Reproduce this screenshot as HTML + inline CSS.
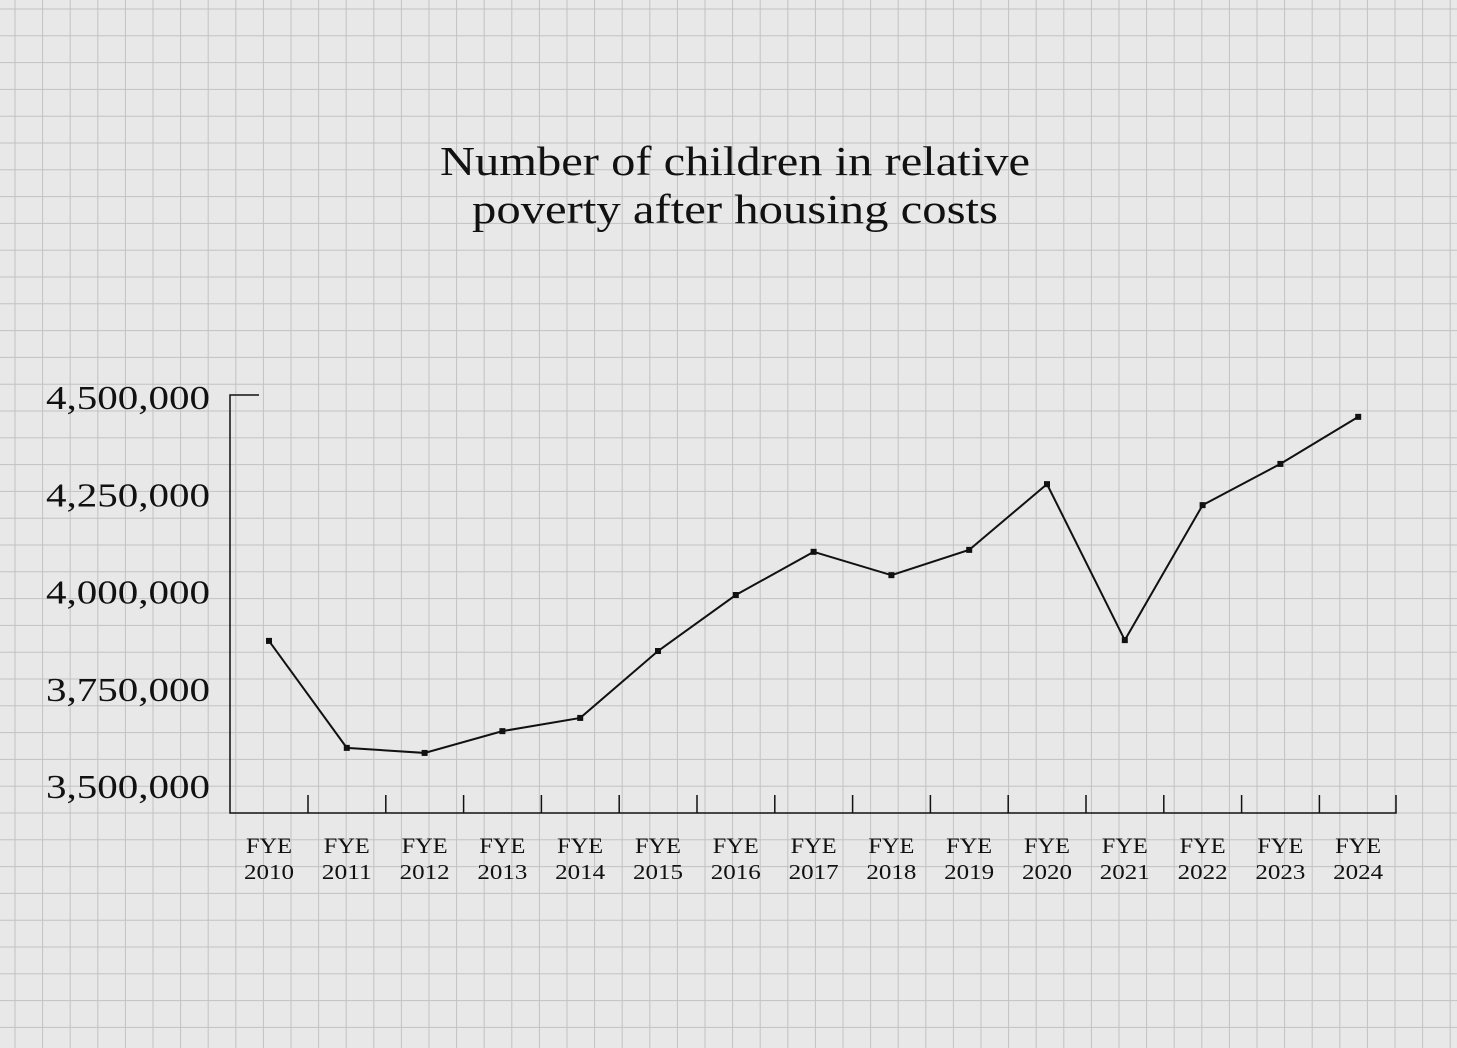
<!DOCTYPE html>
<html><head><meta charset="utf-8"><style>
html,body{margin:0;padding:0;background:#e9e9e9;}
svg{display:block;font-family:"Liberation Serif",serif;}
</style></head><body>
<svg id="chart" width="1457" height="1048" viewBox="0 0 1457 1048" xmlns="http://www.w3.org/2000/svg">
<rect width="1457" height="1048" fill="#e8e8e8"/>
<g id="grid" stroke="#c2c2c2" stroke-width="1"></g>
<text x="735" y="175" text-anchor="middle" font-size="41" fill="#111" textLength="590" lengthAdjust="spacingAndGlyphs">Number of children in relative</text>
<text x="735" y="223" text-anchor="middle" font-size="41" fill="#111" textLength="526" lengthAdjust="spacingAndGlyphs">poverty after housing costs</text>
<g id="axes" stroke="#111" stroke-width="1.5" fill="none"></g>
<g id="ylabels"></g>
<g id="xlabels"></g>
<g id="series"></g>
</svg>
<script>
const years = ["2010","2011","2012","2013","2014","2015","2016","2017","2018","2019","2020","2021","2022","2023","2024"];
const values = [3873000,3598000,3585000,3641000,3675000,3847000,3991000,4102000,4042000,4107000,4276000,3875000,4222000,4328000,4449000];
const yTicks = [3500000,3750000,4000000,4250000,4500000];
const yTickLabels = ["3,500,000","3,750,000","4,000,000","4,250,000","4,500,000"];

const NS="http://www.w3.org/2000/svg";
function mk(tag,attrs,parent){const e=document.createElementNS(NS,tag);for(const k in attrs)e.setAttribute(k,attrs[k]);parent.appendChild(e);return e;}
const yScale=v=>786-(v-3500000)/1000000*389;
const xScale=i=>269+i*77.8;

const grid=document.getElementById('grid');
for(let x=15;x<1457;x+=27.6){const l=mk('line',{x1:x,y1:0,x2:x,y2:1048},grid);

}
for(let y=9;y<1048;y+=26.8){const l=mk('line',{x1:0,y1:y,x2:1457,y2:y},grid);

}

const axes=document.getElementById('axes');
const ya=mk('path',{d:"M259 395 H230 V813 H1396 V795"},axes);


for(let i=0;i<years.length-1;i++){const x=xScale(i)+39;
const t=mk('line',{x1:x,y1:813,x2:x,y2:795},axes);

}

const yl=document.getElementById('ylabels');
yTicks.forEach((v,i)=>{const t=mk('text',{x:210,y:yScale(v)+12,'text-anchor':'end','font-size':34,fill:'#111',textLength:164,lengthAdjust:'spacingAndGlyphs'},yl);
t.textContent=yTickLabels[i];

});

const xl=document.getElementById('xlabels');
years.forEach((y,i)=>{const x=xScale(i);
const a=mk('text',{x:x,y:853,'text-anchor':'middle','font-size':22,fill:'#111',textLength:46,lengthAdjust:'spacingAndGlyphs'},xl);a.textContent="FYE";


const b=mk('text',{x:x,y:879,'text-anchor':'middle','font-size':21,fill:'#111',textLength:50,lengthAdjust:'spacingAndGlyphs'},xl);b.textContent=y;

});

const s=document.getElementById('series');
const line=mk('polyline',{points:values.map((v,i)=>xScale(i)+","+yScale(v)).join(" "),fill:'none',stroke:'#111','stroke-width':2},s);


values.forEach((v,i)=>{const p=mk('rect',{x:xScale(i)-3,y:yScale(v)-3,width:6,height:6,fill:'#111'},s);

});
</script>
</body></html>
